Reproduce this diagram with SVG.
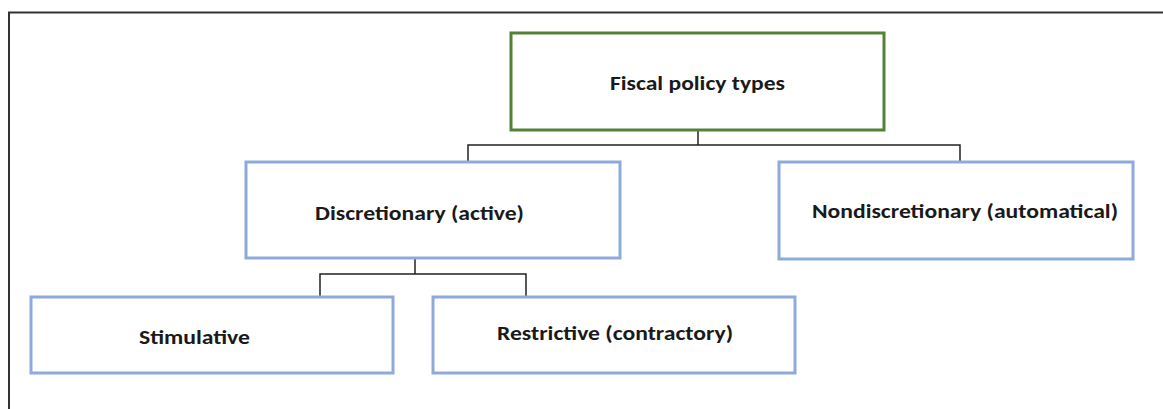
<svg xmlns="http://www.w3.org/2000/svg" width="1163" height="409" viewBox="0 0 1163 409">
<style>
.box{fill:#fff;stroke:#8eaadb;stroke-width:3}
.root{fill:#fff;stroke:#538135;stroke-width:3}
.lbl{font-family:Carlito,Lato,"Liberation Sans",sans-serif;font-weight:bold;font-size:21px;fill:#1a1a1a;text-anchor:middle;dominant-baseline:central}
.con{fill:none;stroke:#222;stroke-width:1.5}
</style>
<rect width="1163" height="409" fill="#fff"/>
<polyline points="9,409 9,12.5 1163,12.5" fill="none" stroke="#333" stroke-width="2"/>
<g id="connectors">
<polyline class="con" points="468,161 468,145 960,145 960,161"/>
<line class="con" x1="698" y1="130" x2="698" y2="145"/>
<polyline class="con" points="320,297 320,274 526,274 526,297"/>
<line class="con" x1="415" y1="258" x2="415" y2="274"/>
</g>
<g id="root">
<rect class="root" x="511" y="33" width="373" height="97"/>
<text class="lbl" x="697.5" y="83" textLength="175" lengthAdjust="spacingAndGlyphs">Fiscal policy types</text>
</g>
<g id="discretionary">
<rect class="box" x="246" y="162" width="374" height="96"/>
<text class="lbl" x="419.5" y="213" textLength="209" lengthAdjust="spacingAndGlyphs">Discretionary (active)</text>
</g>
<g id="nondiscretionary">
<rect class="box" x="779" y="162" width="354" height="97"/>
<text class="lbl" x="965" y="211" textLength="306" lengthAdjust="spacingAndGlyphs">Nondiscretionary (automatical)</text>
</g>
<g id="stimulative">
<rect class="box" x="31" y="297" width="362" height="76"/>
<text class="lbl" x="194.5" y="337" textLength="111" lengthAdjust="spacingAndGlyphs">Stimulative</text>
</g>
<g id="restrictive">
<rect class="box" x="433" y="297" width="362" height="76"/>
<text class="lbl" x="615" y="333" textLength="236" lengthAdjust="spacingAndGlyphs">Restrictive (contractory)</text>
</g>
</svg>
